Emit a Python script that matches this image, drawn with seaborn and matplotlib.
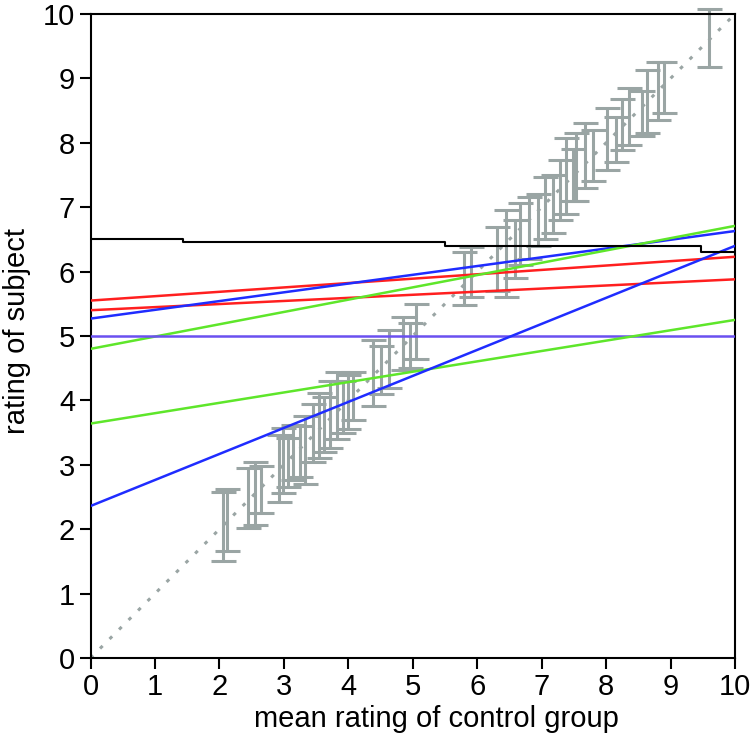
import numpy as np
import pandas as pd
import matplotlib
matplotlib.use("Agg")
import matplotlib.pyplot as plt
import seaborn as sns

# fitted lines of single subjects: value at x=0 and at x=10
line_colors = ["#ff1f1f", "#ff1f1f", "#1f2cff", "#5ee62a", "#6a50f0", "#5ee62a", "#1f2cff"]
line_start = [5.55, 5.40, 5.27, 4.80, 5.00, 3.64, 2.36]
line_end = [6.23, 5.88, 6.63, 6.71, 5.00, 5.25, 6.40]

# black subject drawn as steps
black_x = [0, 1.43, 5.50, 9.48, 10]
black_y = [6.50, 6.46, 6.39, 6.30, 6.30]

# control group ratings with error bars
bar_x = [2.05, 2.12, 2.45, 2.55, 2.65, 2.92, 2.98, 3.06, 3.14, 3.25, 3.33, 3.45,
         3.55, 3.63, 3.72, 3.82, 3.92, 4.00, 4.08, 4.38, 4.50, 4.63, 4.85, 4.95,
         5.05, 5.80, 5.90, 6.30, 6.45, 6.58, 6.66, 6.81, 6.95, 7.05, 7.18, 7.28,
         7.38, 7.48, 7.53, 7.68, 7.80, 8.02, 8.15, 8.24, 8.36, 8.55, 8.63, 8.80,
         8.90, 9.59]
bar_lo = [1.50, 1.66, 2.02, 2.07, 2.25, 2.42, 2.56, 2.66, 2.76, 2.81, 2.70, 3.04,
          3.10, 3.20, 3.26, 3.40, 3.50, 3.55, 3.70, 3.92, 4.10, 4.20, 4.47, 4.50,
          4.65, 5.48, 5.60, 5.70, 5.60, 5.90, 6.10, 6.20, 6.40, 6.50, 6.60, 6.80,
          6.90, 7.10, 7.10, 7.30, 7.40, 7.58, 7.70, 7.89, 7.97, 8.10, 8.15, 8.35,
          8.46, 9.17]
bar_hi = [2.58, 2.62, 2.95, 3.04, 2.98, 3.46, 3.57, 3.42, 3.62, 3.60, 3.75, 3.95,
          4.11, 4.05, 4.30, 4.44, 4.30, 4.40, 4.44, 4.94, 4.85, 5.09, 5.30, 5.20,
          5.50, 6.30, 6.38, 6.70, 6.96, 6.80, 7.06, 7.16, 7.20, 7.47, 7.50, 7.73,
          8.07, 7.90, 8.15, 8.30, 8.20, 8.54, 8.40, 8.68, 8.85, 8.80, 9.13, 9.25,
          9.25, 10.07]

sns.set_style("ticks")
plt.rcParams['font.family'] = ['Liberation Sans', 'DejaVu Sans']

fig = plt.figure(figsize=(7.5, 7.44), dpi=100)
ax = fig.add_axes([0.1207, 0.1156, 0.8593, 0.8656])

bars = pd.DataFrame({"x": bar_x, "lo": bar_lo, "hi": bar_hi})
bars["mid"] = (bars["lo"] + bars["hi"]) / 2
bars["err"] = (bars["hi"] - bars["lo"]) / 2
gray = "#9aa5a4"
eb = ax.errorbar(bars["x"], bars["mid"], yerr=bars["err"], fmt="none", ecolor=gray,
                 elinewidth=2.2, capsize=9, capthick=2.2, zorder=2)
for art in eb.lines[1] + eb.lines[2]:
    art.set_clip_on(False)

# identity line
ax.plot([0, 10], [0, 10], color=gray, lw=2.2, ls=(0, (1.2, 3.2)), zorder=2)

for c, a, b in zip(line_colors, line_start, line_end):
    df = pd.DataFrame({"x": [0, 10], "y": [a, b]})
    sns.lineplot(data=df, x="x", y="y", color=c, lw=1.8, ax=ax, zorder=3)

ax.plot(black_x, black_y, color="black", lw=1.5, drawstyle="steps-post", zorder=3)

ax.set_xlim(0, 10)
ax.set_ylim(0, 10)
ax.set_xticks(range(0, 11))
ax.set_yticks(range(0, 11))
ax.tick_params(direction="out", length=8, width=1.5, labelsize=21, pad=3,
               colors="black")
for s in ax.spines.values():
    s.set_linewidth(1.5)
    s.set_color("black")
ax.set_xlabel("mean rating of control group", fontsize=21, color="black")
ax.set_ylabel("rating of subject", fontsize=21, color="black")
ax.xaxis.set_label_coords(0.536, -0.073)
ax.yaxis.set_label_coords(-0.092, 0.507)

fig.savefig("out.png", dpi=100)
